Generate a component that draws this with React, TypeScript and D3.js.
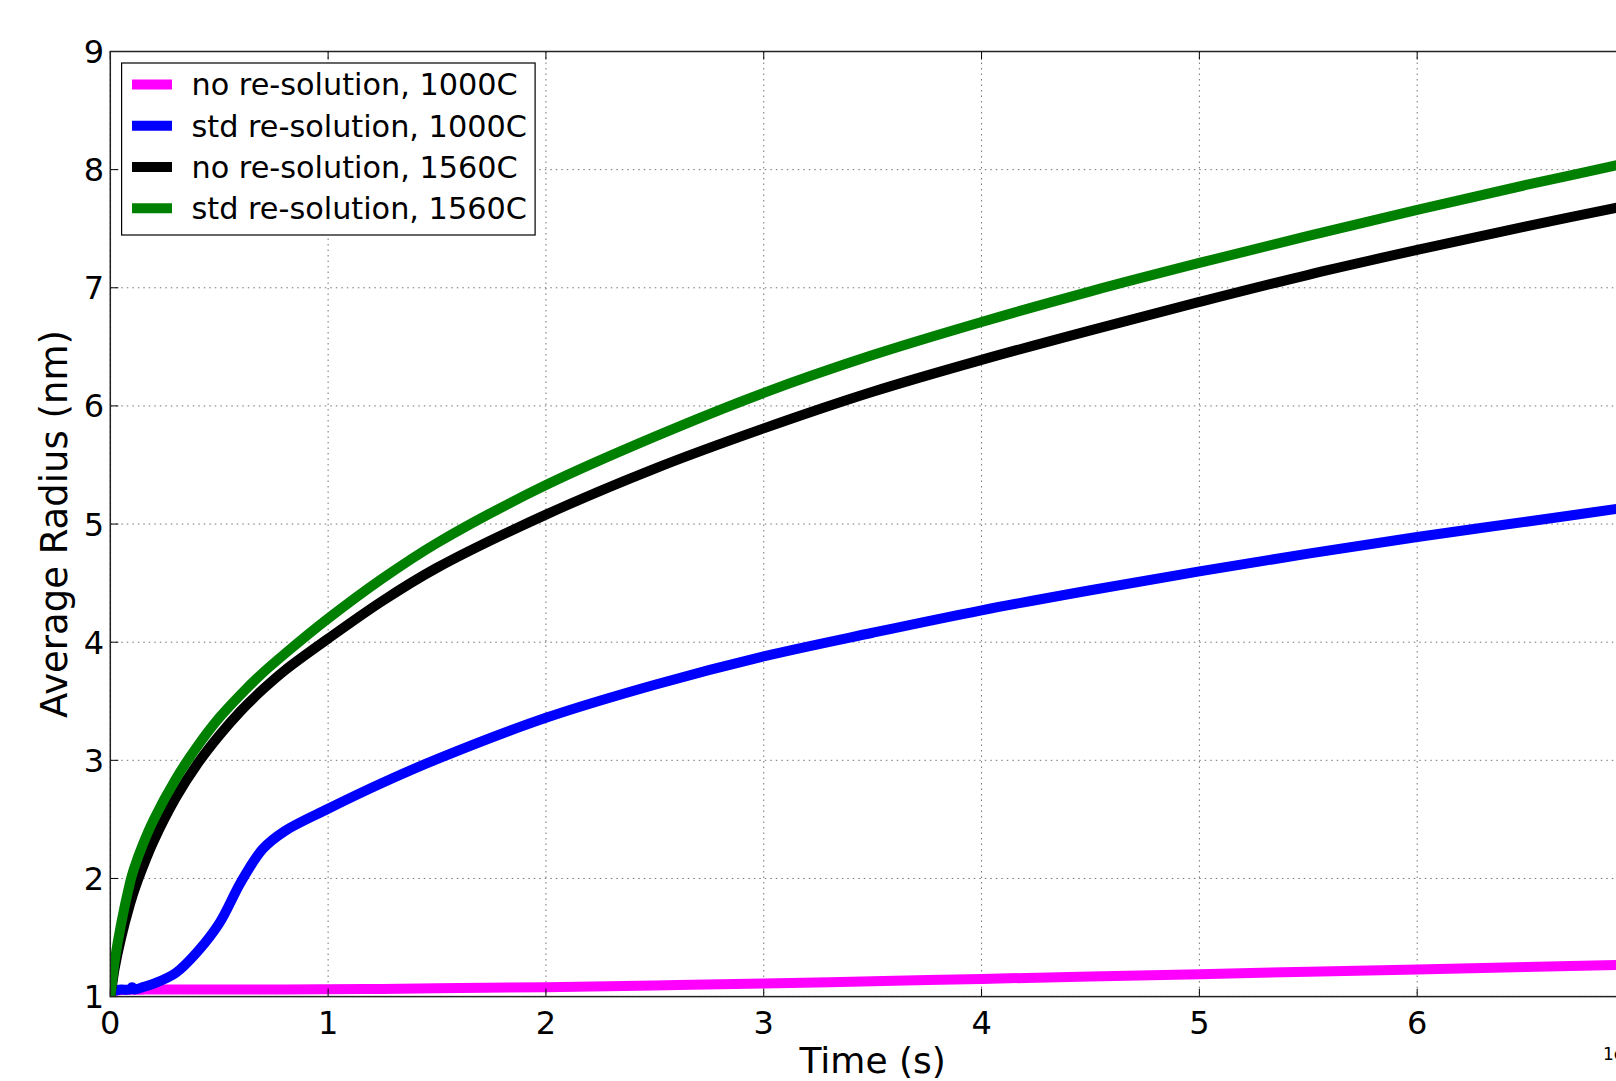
import React from "react";
import * as d3 from "d3";

// ---- data ----
const times = [0, 0.01, 0.02, 0.05, 0.09, 0.1, 0.11, 0.15, 0.2, 0.3, 0.4, 0.5, 0.6, 0.7, 0.8, 1.0, 1.25, 1.5, 2, 2.5, 3, 3.5, 4, 4.5, 5, 5.5, 6, 6.5, 7];

const noRes1000 = [1.0, 1.04, 1.05, 1.055, 1.058, 1.058, 1.058, 1.059, 1.06, 1.06, 1.06, 1.06, 1.06, 1.061, 1.061, 1.062, 1.065, 1.07, 1.08, 1.095, 1.11, 1.13, 1.15, 1.17, 1.19, 1.21, 1.23, 1.25, 1.27];
const stdRes1000 = [1.0, 1.04, 1.05, 1.06, 1.06, 1.08, 1.06, 1.08, 1.11, 1.2, 1.38, 1.62, 1.97, 2.25, 2.4, 2.59, 2.81, 3.01, 3.36, 3.64, 3.88, 4.08, 4.27, 4.44, 4.6, 4.75, 4.89, 5.02, 5.15];
const noRes1560 = [1.0, 1.12, 1.24, 1.5, 1.78, 1.84, 1.9, 2.1, 2.32, 2.68, 2.97, 3.21, 3.42, 3.6, 3.76, 4.03, 4.35, 4.63, 5.08, 5.47, 5.81, 6.12, 6.39, 6.64, 6.88, 7.11, 7.32, 7.52, 7.71];
const stdRes1560 = [1.0, 1.15, 1.3, 1.62, 1.96, 2.03, 2.09, 2.29, 2.5, 2.84, 3.12, 3.36, 3.56, 3.74, 3.9, 4.2, 4.54, 4.84, 5.33, 5.74, 6.11, 6.43, 6.71, 6.97, 7.21, 7.44, 7.66, 7.87, 8.07];

const seriesNames = ["no re-solution, 1000C", "std re-solution, 1000C", "no re-solution, 1560C", "std re-solution, 1560C"];
const seriesColors = ["#ff00ff", "#0000ff", "#000000", "#008000"];
const seriesValues = [noRes1000, stdRes1000, noRes1560, stdRes1560];

const xTicks = [0, 1, 2, 3, 4, 5, 6, 7];
const yTicks = [1, 2, 3, 4, 5, 6, 7, 8, 9];
const xLabel = "Time (s)";
const yLabel = "Average Radius (nm)";
const offsetLabel = "1e3";

// ---- layout ----
const W = 1616;
const H = 1081;
const left = 110.3;
const right = 1635;
const top = 51.5;
const bottom = 996.6;
const FONT = "DejaVu Sans, sans-serif";

export default function App() {
  const x = d3.scaleLinear().domain([0, 7]).range([left, right]);
  const y = d3.scaleLinear().domain([1, 9]).range([bottom, top]);
  const line = d3
    .line<number>()
    .x((_, i) => x(times[i]))
    .y((d) => y(d))
    .curve(d3.curveCatmullRom.alpha(0.5));

  const gridStyle = { stroke: "#000", strokeOpacity: 0.55, strokeWidth: 1, strokeDasharray: "1.5,4" };
  const tickLen = 8;

  const legX = 121.6;
  const legY = 63;
  const legW = 413.5;
  const legH = 172;
  const rowY = [84.5, 125.7, 167, 208.2];

  return (
    <svg
      width={W}
      height={H}
      style={{ position: "absolute", left: 0, top: 0, background: "#fff" }}
      fontFamily={FONT}
    >
      <rect x={0} y={0} width={W} height={H} fill="#fff" />
      <defs>
        <clipPath id="plotclip">
          <rect x={left} y={top} width={right - left} height={bottom - top} />
        </clipPath>
      </defs>

      {/* grid */}
      {xTicks.map((t) => (
        <line key={"gx" + t} x1={x(t)} x2={x(t)} y1={top} y2={bottom} {...gridStyle} />
      ))}
      {yTicks.map((v) => (
        <line key={"gy" + v} x1={left} x2={right} y1={y(v)} y2={y(v)} {...gridStyle} />
      ))}

      {/* curves */}
      <g clipPath="url(#plotclip)">
        {seriesValues.map((vals, i) => (
          <path
            key={seriesNames[i]}
            d={line(vals) || ""}
            fill="none"
            stroke={seriesColors[i]}
            strokeWidth={10}
            strokeLinejoin="round"
            strokeLinecap="butt"
          />
        ))}
      </g>

      {/* ticks (inward, all sides) */}
      {xTicks.map((t) => (
        <g key={"tx" + t}>
          <line x1={x(t)} x2={x(t)} y1={bottom} y2={bottom - tickLen} stroke="#000" strokeWidth={1} />
          <line x1={x(t)} x2={x(t)} y1={top} y2={top + tickLen} stroke="#000" strokeWidth={1} />
          <text x={x(t)} y={1034} fontSize={32} textAnchor="middle" fill="#000">
            {t}
          </text>
        </g>
      ))}
      {yTicks.map((v) => (
        <g key={"ty" + v}>
          <line x1={left} x2={left + tickLen} y1={y(v)} y2={y(v)} stroke="#000" strokeWidth={1} />
          <line x1={right} x2={right - tickLen} y1={y(v)} y2={y(v)} stroke="#000" strokeWidth={1} />
          <text x={104} y={y(v)} dy="0.36em" fontSize={32} textAnchor="end" fill="#000">
            {v}
          </text>
        </g>
      ))}

      {/* spines */}
      <rect x={left} y={top} width={right - left} height={bottom - top} fill="none" stroke="#222" strokeWidth={1.5} />

      {/* axis labels */}
      <text x={(left + right) / 2} y={1073} fontSize={36} textAnchor="middle" fill="#000">
        {xLabel}
      </text>
      <text
        transform={`translate(67,${(top + bottom) / 2}) rotate(-90)`}
        fontSize={37}
        textAnchor="middle"
        fill="#000"
      >
        {yLabel}
      </text>
      <text x={right} y={1060} fontSize={17} textAnchor="end" fill="#000">
        {offsetLabel}
      </text>

      {/* legend */}
      <rect x={legX} y={legY} width={legW} height={legH} fill="#fff" stroke="#000" strokeWidth={1.2} />
      {seriesNames.map((name, i) => (
        <g key={"leg" + i}>
          <line x1={132} x2={172} y1={rowY[i]} y2={rowY[i]} stroke={seriesColors[i]} strokeWidth={10} />
          <text x={191.5} y={rowY[i]} dy="0.36em" fontSize={30.3} fill="#000">
            {name}
          </text>
        </g>
      ))}
    </svg>
  );
}
